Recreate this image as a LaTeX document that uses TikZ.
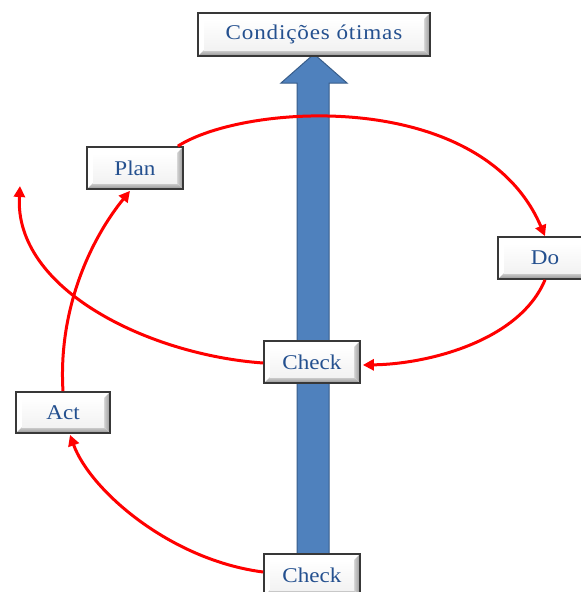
\documentclass[tikz,border=0pt]{standalone}
\usepackage{fontspec}
\setmainfont{Liberation Serif}[FakeStretch=1.1]
\usetikzlibrary{arrows.meta,calc}
\definecolor{txtblue}{HTML}{24508F}
\definecolor{barfill}{HTML}{4F81BD}
\definecolor{barline}{HTML}{385D8A}
\definecolor{loopred}{HTML}{FF0000}
\tikzset{
  bevelbox/.style={
    draw=black!78, line width=1.7pt, fill=white, inner sep=0pt,
    minimum width=96pt, minimum height=42pt, text=txtblue,
    font=\fontsize{21}{24}\selectfont,
    path picture={
      \path (path picture bounding box.south west) coordinate (bbA)
            (path picture bounding box.north east) coordinate (bbB);
      % bottom bevel
      \shade[top color=gray!35, bottom color=gray!85]
        (bbA) -- (bbA -| bbB) -- ([shift={(-6pt,6pt)}]bbA -| bbB)
        -- ([shift={(6pt,6pt)}]bbA) -- cycle;
      % right bevel
      \shade[left color=gray!35, right color=gray!80]
        (bbA -| bbB) -- (bbB) -- ([shift={(-6pt,-6pt)}]bbB)
        -- ([shift={(-6pt,6pt)}]bbA -| bbB) -- cycle;
      % face
      \shade[top color=white, bottom color=gray!10]
        ([shift={(6pt,6pt)}]bbA) rectangle ([shift={(-6pt,-6pt)}]bbB);
    }},
  loop/.style={draw=loopred, line width=3pt,
    -{Triangle[length=11pt,width=11pt]}},
}
\begin{document}
\begin{tikzpicture}[x=1pt,y=-1pt]
\clip (0,0) rectangle (581,592);
\fill[white] (0,0) rectangle (581,592);

% upward bar towards the goal
\filldraw[fill=barfill, draw=barline, line width=1pt]
  (297,580) -- (297,83) -- (281,83) -- (314,54) -- (347,83)
  -- (329,83) -- (329,580) -- cycle;

% boxes
\node[bevelbox, minimum width=232pt, minimum height=43pt,
      font={\fontsize{21}{24}\selectfont\addfontfeature{LetterSpace=4}}]
  (goal) at (314,34.5) {Condições ótimas};
\node[bevelbox] (plan)   at (135,168) {Plan};
\node[bevelbox, minimum width=94pt] (do) at (545,258) {Do};
\node[bevelbox] (checkA) at (312,362) {Check};
\node[bevelbox] (checkB) at (312,575) {Check};
\node[bevelbox, minimum width=94pt, minimum height=41pt] (act) at (63,412.5) {Act};

\coordinate (outA) at (20,186);

% cycle connectors
\draw[loop] ($(plan.north east)+(-6,0)$)
  .. controls (245,103) and (482,88) .. (do.north);
\draw[loop] (do.south)
  .. controls (520,340) and (430,364) .. ($(checkA.east)+(2,3)$);
\draw[loop] ($(checkA.west)+(0,1)$)
  .. controls (150,355) and (14,290) .. (outA);
\draw[loop] (act.north)
  .. controls (58,310) and (90,240) .. ($(plan.south)+(-5,1)$);
\draw[loop] ($(checkB.west)+(0,-3)$)
  .. controls (170,560) and (90,490) .. ($(act.south)+(7,1)$);
\end{tikzpicture}
\end{document}
